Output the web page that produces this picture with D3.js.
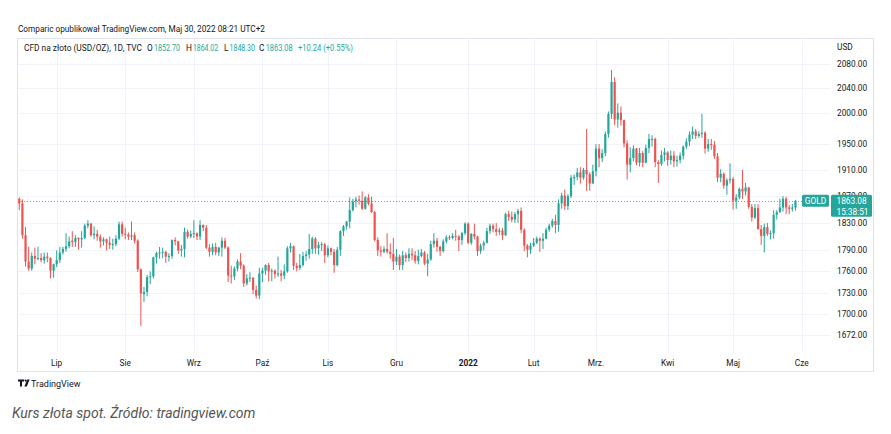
<!DOCTYPE html>
<html><head><meta charset="utf-8">
<script src="https://cdn.jsdelivr.net/npm/d3@7"></script>
<style>
body{margin:0;background:#fff;}
svg{display:block;}
</style></head><body>
<svg id="c" width="891" height="434"></svg>
<script>
// Daily bars, 15 Jun 2021 .. 30 May 2022 (index 0 .. 249)
const open = [1866,1859,1812,1774,1764,1782,1778,1779,1776,1781,1779,1761,
1770,1776,1787,1792,1796,1804,1802,1808,1806,1808,1826,1829,1812,1814,1810,1803,1806,1801,1798,1799,1807,1828,
1814,1813,1810,1812,1804,1763,1728,1731,1752,1753,1780,1786,1787,1788,1781,1782,1805,1803,1790,1792,1817,1810,
1814,1815,1810,1827,1823,1794,1788,1795,1787,1794,1804,1794,1754,1753,1764,1774,1768,1743,1750,1751,1734,1726,
1757,1761,1769,1760,1761,1756,1757,1754,1760,1793,1796,1768,1765,1769,1782,1784,1792,1807,1793,1798,1799,
1783,1793,1788,1769,1791,1818,1825,1832,1849,1862,1865,1863,1851,1868,1859,1846,1805,1790,1788,1792,1788,1785,
1774,1781,1769,1783,1779,1785,1783,1775,1782,1787,1771,1777,1799,1804,1795,1789,1803,1809,1808,1811,1810,1805,1815,
1829,1801,1814,1810,1789,1797,1801,1818,1826,1821,1817,1819,1812,1843,1839,1835,1843,1848,1820,1797,1791,
1797,1801,1807,1804,1807,1820,1826,1833,1827,1859,1871,1855,1870,1897,1899,1906,1898,1910,1903,1889,
1908,1943,1928,1936,1966,1998,2050,1989,2000,1988,1951,1918,1928,1943,1921,1936,1921,1944,1957,1958,1922,1919,1933,
1937,1925,1932,1923,1925,1932,1946,1954,1965,1970,1963,1966,1968,1943,1950,1949,1931,1898,1904,1886,1894,
1896,1863,1868,1881,1877,1883,1854,1838,1852,1821,1811,1824,1814,1815,1842,1846,1853,1866,1853,1851,1852.70];
const high = [1868,1865,1824,1795,1787,1794,1795,1786,1787,1787,1780,1771,
1790,1795,1795,1815,1810,1818,1812,1809,1818,1829,1834,1830,1825,1820,1813,1809,1807,1810,1807,1812,1832,1832,
1823,1816,1832,1816,1806,1764,1738,1755,1760,1781,1788,1795,1794,1789,1786,1806,1809,1804,1798,1823,1820,1819,
1834,1816,1834,1828,1827,1799,1800,1801,1795,1809,1808,1796,1768,1767,1777,1786,1770,1756,1759,1752,1740,1765,
1765,1770,1772,1764,1763,1781,1762,1770,1796,1801,1797,1772,1785,1788,1789,1814,1810,1809,1802,1802,1801,
1797,1794,1792,1795,1819,1827,1833,1868,1866,1869,1871,1877,1870,1873,1869,1848,1809,1796,1796,1815,1800,1808,
1792,1784,1789,1787,1793,1793,1789,1791,1792,1789,1785,1804,1815,1808,1797,1806,1812,1812,1815,1820,1812,1817,1831,
1831,1815,1829,1811,1800,1804,1823,1829,1829,1830,1823,1823,1845,1848,1847,1846,1851,1853,1822,1799,1801,
1808,1810,1809,1815,1823,1829,1836,1842,1865,1875,1880,1873,1902,1903,1913,1914,1913,1974,1906,1918,
1950,1950,1942,1970,2002,2070,2058,2015,2010,1989,1956,1945,1948,1944,1944,1939,1949,1966,1964,1960,1925,1940,1944,
1939,1940,1939,1932,1937,1948,1959,1970,1978,1974,1970,1998,1970,1958,1958,1955,1936,1911,1906,1897,1920,
1899,1873,1883,1910,1890,1884,1858,1858,1858,1827,1829,1830,1819,1849,1849,1866,1870,1869,1857,1858,1864.02];
const low = [1849,1807,1767,1761,1761,1770,1776,1773,1771,1773,1750,1751,
1766,1772,1784,1788,1793,1795,1795,1791,1794,1806,1822,1810,1806,1804,1794,1797,1790,1792,1791,1796,1805,1810,
1806,1805,1805,1800,1759,1684,1717,1725,1742,1750,1771,1778,1779,1772,1774,1778,1797,1785,1781,1780,1807,1808,
1808,1805,1805,1818,1792,1781,1783,1783,1782,1781,1792,1745,1743,1748,1760,1763,1738,1740,1745,1728,1722,1721,
1745,1755,1746,1746,1750,1752,1746,1749,1758,1787,1762,1760,1762,1767,1775,1778,1785,1785,1784,1789,1772,
1780,1783,1758,1767,1782,1811,1820,1822,1847,1853,1857,1849,1850,1856,1845,1803,1782,1781,1786,1785,1778,1762,
1769,1762,1762,1773,1774,1776,1771,1770,1780,1769,1753,1775,1794,1788,1782,1787,1800,1805,1806,1804,1789,1798,1812,
1799,1798,1806,1782,1785,1790,1800,1814,1816,1811,1812,1805,1811,1833,1831,1830,1830,1815,1789,1780,1785,
1795,1799,1788,1792,1806,1817,1823,1815,1817,1851,1849,1849,1867,1887,1894,1889,1895,1878,1878,1889,
1900,1914,1922,1931,1960,1990,1980,1976,1979,1945,1895,1906,1923,1917,1915,1914,1920,1936,1946,1914,1890,1916,1923,
1916,1918,1914,1915,1920,1926,1942,1947,1958,1958,1960,1960,1935,1938,1941,1927,1891,1891,1881,1872,1889,
1850,1851,1865,1866,1871,1851,1832,1836,1820,1798,1787,1811,1806,1807,1835,1845,1847,1843,1843,1847,1848.30];
const close = [1859,1812,1774,1764,1782,1778,1779,1776,1781,1779,1761,1770,
1776,1787,1792,1796,1803,1802,1808,1806,1808,1826,1829,1812,1814,1810,1803,1806,1801,1798,1799,1807,1828,1814,
1813,1810,1812,1804,1763,1729,1731,1752,1753,1780,1786,1787,1788,1781,1782,1805,1803,1790,1792,1817,1810,1814,
1815,1810,1827,1823,1794,1788,1795,1787,1794,1804,1794,1754,1753,1764,1774,1768,1743,1750,1751,1734,1726,1757,
1761,1769,1760,1761,1756,1757,1754,1760,1793,1796,1768,1765,1769,1782,1784,1792,1807,1793,1798,1799,1783,
1793,1788,1769,1791,1818,1825,1832,1849,1862,1865,1863,1851,1868,1859,1846,1805,1790,1788,1792,1788,1785,1774,
1781,1769,1783,1779,1785,1783,1775,1782,1787,1771,1777,1799,1804,1795,1789,1803,1809,1808,1811,1810,1805,1815,1829,
1801,1814,1810,1789,1797,1801,1818,1826,1821,1817,1819,1812,1843,1839,1835,1843,1848,1820,1797,1791,1797,
1801,1807,1804,1807,1820,1826,1833,1827,1859,1871,1855,1870,1898,1899,1906,1898,1910,1903,1889,1908,
1943,1928,1936,1966,1998,2050,1989,2000,1988,1951,1918,1928,1943,1921,1936,1921,1944,1958,1958,1922,1919,1933,1937,
1925,1932,1923,1925,1932,1946,1954,1965,1970,1963,1966,1968,1943,1950,1949,1931,1898,1904,1886,1894,1896,
1863,1868,1881,1877,1883,1854,1838,1852,1821,1811,1824,1814,1815,1842,1846,1853,1866,1853,1851,1852.70,1863.08];

const monthLabels = ["Lip","Sie","Wrz","Paź","Lis","Gru","2022","Lut","Mrz.","Kwi","Maj","Cze"];
const monthIndex  = [12,34,56,78,99,121,144,165,185,208,229,251];
const priceTicks  = [2080,2040,2000,1950,1910,1870,1830,1790,1760,1730,1700,1672];

const lastPrice = 1863.08;
const countdown = "15:38:51";
const headerText = "Comparic opublikował TradingView.com, Maj 30, 2022 08:21 UTC+2";
const symbolText = "CFD na złoto (USD/OZ), 1D, TVC";
const ohlcLabels = ["O","H","L","C"];
const ohlcValues = ["1852.70","1864.02","1848.30","1863.08"];
const changeText = "+10.24 (+0.55%)";
const caption = "Kurs złota spot. Źródło: tradingview.com";

const UP = "#26a69a", DOWN = "#ef5350", GRID = "#f0f3fa", TXT = "#131722";
const FONT = "Roboto, 'Noto Sans', sans-serif";

const svg = d3.select("#c");
const pane = {l:17, r:830, t:38, b:353};
const x = d3.scaleLinear().domain([12, 251]).range([56.7, 801.7]);
const y = d3.scaleLog().domain([1648, 2124]).range([pane.b, pane.t]);

// frame
svg.append("rect").attr("x",17.5).attr("y",38.5).attr("width",856).attr("height",333)
  .attr("fill","#fff").attr("stroke","#e0e3eb").attr("stroke-width",1);

// grid
const g = svg.append("g");
g.selectAll("line.h").data(priceTicks).join("line")
  .attr("x1",pane.l+1).attr("x2",pane.r).attr("y1",d=>Math.round(y(d))+0.5).attr("y2",d=>Math.round(y(d))+0.5)
  .attr("stroke",GRID).attr("stroke-width",1);
g.selectAll("line.v").data(monthIndex).join("line")
  .attr("y1",pane.t+1).attr("y2",pane.b).attr("x1",d=>Math.round(x(d))+0.5).attr("x2",d=>Math.round(x(d))+0.5)
  .attr("stroke",GRID).attr("stroke-width",1);

// last price dotted line
svg.append("line").attr("x1",pane.l+1).attr("x2",802).attr("y1",Math.round(y(lastPrice))+0.5).attr("y2",Math.round(y(lastPrice))+0.5)
  .attr("stroke",UP).attr("stroke-width",1).attr("stroke-dasharray","1,2").attr("opacity",0.8);

// candles
const idx = d3.range(close.length);
const cg = svg.append("g");
cg.selectAll("line.w").data(idx).join("line")
  .attr("x1",i=>x(i)).attr("x2",i=>x(i))
  .attr("y1",i=>y(high[i])).attr("y2",i=>y(low[i]))
  .attr("stroke",i=>close[i]>=open[i]?UP:DOWN).attr("stroke-width",1);
cg.selectAll("rect").data(idx).join("rect")
  .attr("x",i=>x(i)-1.1).attr("width",2.2)
  .attr("y",i=>y(Math.max(open[i],close[i])))
  .attr("height",i=>Math.max(1, y(Math.min(open[i],close[i]))-y(Math.max(open[i],close[i]))))
  .attr("fill",i=>close[i]>=open[i]?UP:DOWN);

// price axis labels
const ax = svg.append("g").attr("font-family",FONT).attr("font-size",8.3).attr("fill",TXT);
ax.append("text").attr("x",837).attr("y",50).text("USD");
ax.selectAll("text.p").data(priceTicks).join("text")
  .attr("x",837).attr("y",d=>y(d)+3).text(d=>d.toFixed(2));

// time axis labels
const tx = svg.append("g").attr("font-family",FONT).attr("font-size",8.3).attr("fill",TXT).attr("text-anchor","middle");
tx.selectAll("text").data(monthIndex).join("text")
  .attr("x",d=>x(d)).attr("y",366).text((d,i)=>monthLabels[i])
  .attr("font-weight",(d,i)=>monthLabels[i]==="2022"?"bold":"normal");

// price tag (drawn over the partly hidden 1870.00 label, as in the original)
const py = y(lastPrice);
svg.append("rect").attr("x",831).attr("y",py-6).attr("width",41).attr("height",22).attr("rx",1.5).attr("fill",UP);
svg.append("text").attr("x",836.5).attr("y",py+3).attr("font-family",FONT).attr("font-size",8.3).attr("fill","#fff").text(lastPrice.toFixed(2));
svg.append("text").attr("x",836.5).attr("y",py+14).attr("font-family",FONT).attr("font-size",8.3).attr("fill","#fff").text(countdown);
svg.append("rect").attr("x",802).attr("y",py-6).attr("width",27).attr("height",12).attr("rx",1.5).attr("fill",UP);
svg.append("text").attr("x",815.5).attr("y",py+3).attr("text-anchor","middle").attr("font-family",FONT).attr("font-size",8.3).attr("fill","#fff").text("GOLD");

// header
svg.append("text").attr("x",18).attr("y",32).attr("font-family",FONT).attr("font-size",8.3).attr("fill",TXT)
  .attr("textLength",247).attr("lengthAdjust","spacingAndGlyphs").text(headerText);
const lg = svg.append("g").attr("font-family",FONT).attr("font-size",8.3);
lg.append("text").attr("x",24).attr("y",51).attr("fill",TXT).attr("textLength",118).attr("lengthAdjust","spacingAndGlyphs").text(symbolText);
const labX = [147,186,224,259], valX = [154,193,229.5,265.7], valW = [26,25,25.5,27];
ohlcLabels.forEach((l,i)=>{
  lg.append("text").attr("x",labX[i]).attr("y",51).attr("fill",TXT).text(l);
  lg.append("text").attr("x",valX[i]).attr("y",51).attr("fill",UP)
    .attr("textLength",valW[i]).attr("lengthAdjust","spacingAndGlyphs").text(ohlcValues[i]);
});
lg.append("text").attr("x",298).attr("y",51).attr("fill",UP)
  .attr("textLength",55).attr("lengthAdjust","spacingAndGlyphs").text(changeText);

// TradingView logo + text
const logo = svg.append("g").attr("fill",TXT);
logo.append("path").attr("d","M18 379.5h6v2h-2v5h-2v-5h-2z");
logo.append("circle").attr("cx",25.6).attr("cy",380.6).attr("r",1.1);
logo.append("path").attr("d","M27.2 379.5h2.4l-2.8 7h-2.4z");
svg.append("text").attr("x",31).attr("y",386.5).attr("font-family",FONT).attr("font-size",9).attr("fill",TXT).text("TradingView");

// caption
svg.append("text").attr("x",12).attr("y",418).attr("font-family",FONT).attr("font-style","italic")
  .attr("font-size",14).attr("fill","#555").text(caption);
</script>
</body></html>
